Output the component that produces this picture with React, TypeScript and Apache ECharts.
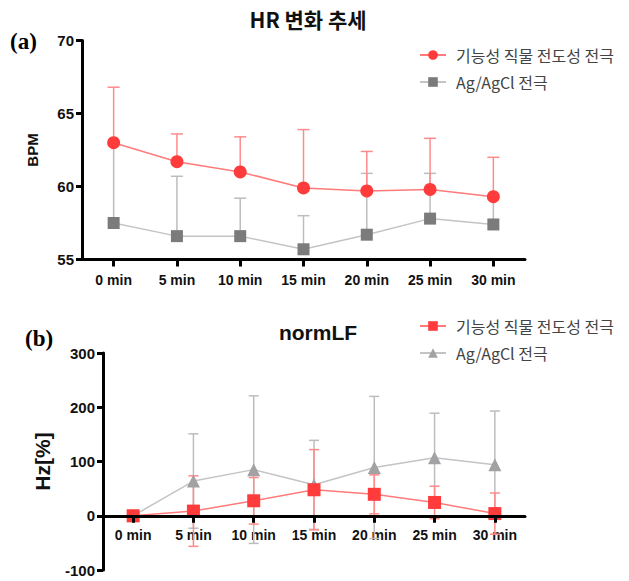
import React, { useEffect, useRef } from "react";
import * as echarts from "echarts";

const categories = ["0 min", "5 min", "10 min", "15 min", "20 min", "25 min", "30 min"];

// (a) HR
const hrFabric = [63.0, 61.7, 61.0, 59.9, 59.7, 59.8, 59.3];
const hrFabricUpper = [66.8, 63.6, 63.4, 63.9, 62.4, 63.3, 62.0];
const hrAgCl = [57.5, 56.6, 56.6, 55.7, 56.7, 57.8, 57.4];
const hrAgClUpper = [62.9, 60.7, 59.2, 58.0, 60.9, 60.9, 59.3];
const hrTicks = { min: 55, max: 70, interval: 5 };

// (b) normLF
const lfFabric = [0, 8.6, 27.6, 47.9, 39.5, 24.5, 4];
const lfFabricErr = [0, 65, 43, 74, 36, 30, 38];
const lfAgCl = [0, 64, 85, 57, 89, 107, 94];
const lfAgClErr = [0, 87, 136, 82, 131, 82, 99];
const lfTicks = { min: -100, max: 300, interval: 100 };

const NAME_FABRIC = "기능성 직물 전도성 전극";
const NAME_AGCL = "Ag/AgCl 전극";

const RED = "#ff3b3b";
const RED_LINE = "#ff7a7a";
const RED_ERR = "#ff8a8a";
const GRAY_SQ = "#7b7b7b";
const GRAY_TRI = "#a2a2a4";
const GRAY_LINE = "#c4c4c4";
const GRAY_ERR = "#bdbdbd";

const NUM_FONT = "'Liberation Sans', Arial, sans-serif";
const KR_FONT = "'Noto Sans CJK KR', 'Noto Sans', sans-serif";

function errorSeries(
  xIdx: number,
  data: number[][],
  color: string,
  half: number,
  both: boolean,
  z: number
) {
  return {
    type: "custom",
    xAxisIndex: xIdx,
    yAxisIndex: xIdx,
    z,
    silent: true,
    encode: { x: 0, y: [1, 2] },
    data,
    renderItem: (params: any, api: any) => {
      const x = api.value(0);
      const lo = api.value(1);
      const hi = api.value(2);
      const pHi = api.coord([x, hi]);
      const pLo = api.coord([x, lo]);
      const style = { stroke: color, lineWidth: 1.5, fill: "none" };
      const children: any[] = [
        { type: "line", shape: { x1: pHi[0], y1: pHi[1], x2: pLo[0], y2: pLo[1] }, style },
        { type: "line", shape: { x1: pHi[0] - half, y1: pHi[1], x2: pHi[0] + half, y2: pHi[1] }, style },
      ];
      if (both) {
        children.push({
          type: "line",
          shape: { x1: pLo[0] - half, y1: pLo[1], x2: pLo[0] + half, y2: pLo[1] },
          style,
        });
      }
      return { type: "group", children };
    },
  };
}

function valueAxis(gridIndex: number, t: any, name: string, nameSize: number, nameGap: number) {
  return {
    type: "value",
    gridIndex,
    z: 10,
    min: t.min,
    max: t.max,
    interval: t.interval,
    name,
    nameLocation: "middle",
    nameRotate: 90,
    nameGap,
    nameTextStyle: { color: "#111", fontSize: nameSize, fontWeight: "bold", fontFamily: NUM_FONT },
    axisLine: { show: true, onZero: false, lineStyle: { color: "#000000", width: 3 } },
    axisTick: { show: true, inside: false, length: 6, lineStyle: { color: "#000000", width: 3 } },
    axisLabel: {
      show: true,
      color: "#111111",
      fontSize: 15,
      fontWeight: "bold",
      fontFamily: NUM_FONT,
      margin: 8,
      textBorderWidth: 0,
      textBorderColor: "transparent",
      backgroundColor: "transparent",
    },
    splitLine: { show: false },
    splitArea: { show: false },
  };
}

export default function App() {
  const ref = useRef<HTMLDivElement>(null);

  useEffect(() => {
    if (!ref.current) return;
    const chart = echarts.init(ref.current, null, { renderer: "svg" });

    const labelStyle = {
      color: "#111",
      fontSize: 14,
      fontWeight: "bold",
      fontFamily: NUM_FONT,
    };

    const legendBase = (top: number, names: string[]) => ({
      orient: "vertical",
      left: 414,
      top,
      itemWidth: 26,
      itemHeight: 12,
      itemGap: 11,
      data: names,
      formatter: (n: string) => n.replace("#b", ""),
      textStyle: { color: "#444", fontSize: 16, fontFamily: KR_FONT, padding: [0, 0, 0, 5] },
    });

    const option: any = {
      animation: false,
      backgroundColor: "#fff",
      title: [
        {
          text: "HR 변화 추세",
          left: 303,
          textAlign: "center",
          top: 3,
          textStyle: { color: "#111", fontSize: 21, fontWeight: "bold", fontFamily: KR_FONT },
        },
        {
          text: "normLF",
          left: 313,
          textAlign: "center",
          top: 317,
          textStyle: { color: "#111", fontSize: 21, fontWeight: "bold", fontFamily: NUM_FONT },
        },
      ],
      graphic: [
        {
          type: "text",
          left: 10,
          top: 30,
          style: { text: "(a)", fill: "#000", font: "bold 23px 'Liberation Serif', 'Times New Roman', serif" },
        },
        {
          type: "text",
          left: 25,
          top: 327,
          style: { text: "(b)", fill: "#000", font: "bold 23px 'Liberation Serif', 'Times New Roman', serif" },
        },
      ],
      legend: [
        legendBase(42, [NAME_FABRIC, NAME_AGCL]),
        legendBase(313, [NAME_FABRIC + "#b", NAME_AGCL + "#b"]),
      ],
      grid: [
        { show: false, left: 82, right: 104, top: 40.5, height: 219, containLabel: false },
        { show: false, left: 103, right: 104, top: 353, height: 217, containLabel: false },
      ],
      xAxis: [
        {
          type: "category",
          gridIndex: 0,
          z: 10,
          data: categories,
          boundaryGap: true,
          axisLine: { show: true, lineStyle: { color: "#000", width: 3 } },
          axisTick: { show: true, alignWithLabel: true, length: 7, lineStyle: { color: "#000", width: 3 } },
          axisLabel: { ...labelStyle, margin: 13, interval: 0 },
          splitLine: { show: false },
        },
        {
          type: "category",
          gridIndex: 1,
          z: 10,
          data: categories,
          boundaryGap: true,
          axisLine: { show: true, onZero: true, lineStyle: { color: "#000", width: 3 } },
          axisTick: { show: true, alignWithLabel: true, length: 7, lineStyle: { color: "#000", width: 3 } },
          axisLabel: { show: false },
          splitLine: { show: false },
        },
        {
          type: "category",
          gridIndex: 1,
          data: categories,
          boundaryGap: true,
          position: "bottom",
          offset: -54,
          axisLine: { show: false, onZero: false },
          axisTick: { show: false },
          axisLabel: { ...labelStyle, margin: 12, interval: 0 },
          splitLine: { show: false },
        },
      ],
      yAxis: [valueAxis(0, hrTicks, "BPM", 15, 42), valueAxis(1, lfTicks, "Hz[%]", 21, 50)],
      series: [
        errorSeries(0, hrAgCl.map((v, i) => [i, v, hrAgClUpper[i]]), GRAY_ERR, 6, false, 1),
        errorSeries(0, hrFabric.map((v, i) => [i, v, hrFabricUpper[i]]), RED_ERR, 6, false, 2),
        {
          name: NAME_AGCL,
          type: "line",
          xAxisIndex: 0,
          yAxisIndex: 0,
          data: hrAgCl,
          symbol: "rect",
          symbolSize: 12,
          z: 3,
          itemStyle: { color: GRAY_SQ },
          lineStyle: { color: GRAY_LINE, width: 1.5 },
        },
        {
          name: NAME_FABRIC,
          type: "line",
          xAxisIndex: 0,
          yAxisIndex: 0,
          data: hrFabric,
          symbol: "circle",
          symbolSize: 13,
          z: 4,
          itemStyle: { color: RED },
          lineStyle: { color: RED_LINE, width: 1.5 },
        },
        errorSeries(
          1,
          lfAgCl.map((v, i) => [i, v - lfAgClErr[i], v + lfAgClErr[i]]),
          GRAY_ERR,
          5,
          true,
          1
        ),
        errorSeries(
          1,
          lfFabric.map((v, i) => [i, v - lfFabricErr[i], v + lfFabricErr[i]]),
          RED_ERR,
          5,
          true,
          2
        ),
        {
          name: NAME_AGCL + "#b",
          type: "line",
          xAxisIndex: 1,
          yAxisIndex: 1,
          data: lfAgCl,
          symbol: "triangle",
          symbolSize: 13,
          z: 3,
          itemStyle: { color: GRAY_TRI },
          lineStyle: { color: GRAY_LINE, width: 1.5 },
        },
        {
          name: NAME_FABRIC + "#b",
          type: "line",
          xAxisIndex: 1,
          yAxisIndex: 1,
          data: lfFabric,
          symbol: "rect",
          symbolSize: 13,
          z: 4,
          itemStyle: { color: RED },
          lineStyle: { color: RED_LINE, width: 1.5 },
        },
      ],
    };

    chart.setOption(option);
    return () => chart.dispose();
  }, []);

  return (
    <div
      ref={ref}
      style={{ position: "absolute", left: 0, top: 0, width: 629, height: 581, background: "#fff" }}
    />
  );
}
